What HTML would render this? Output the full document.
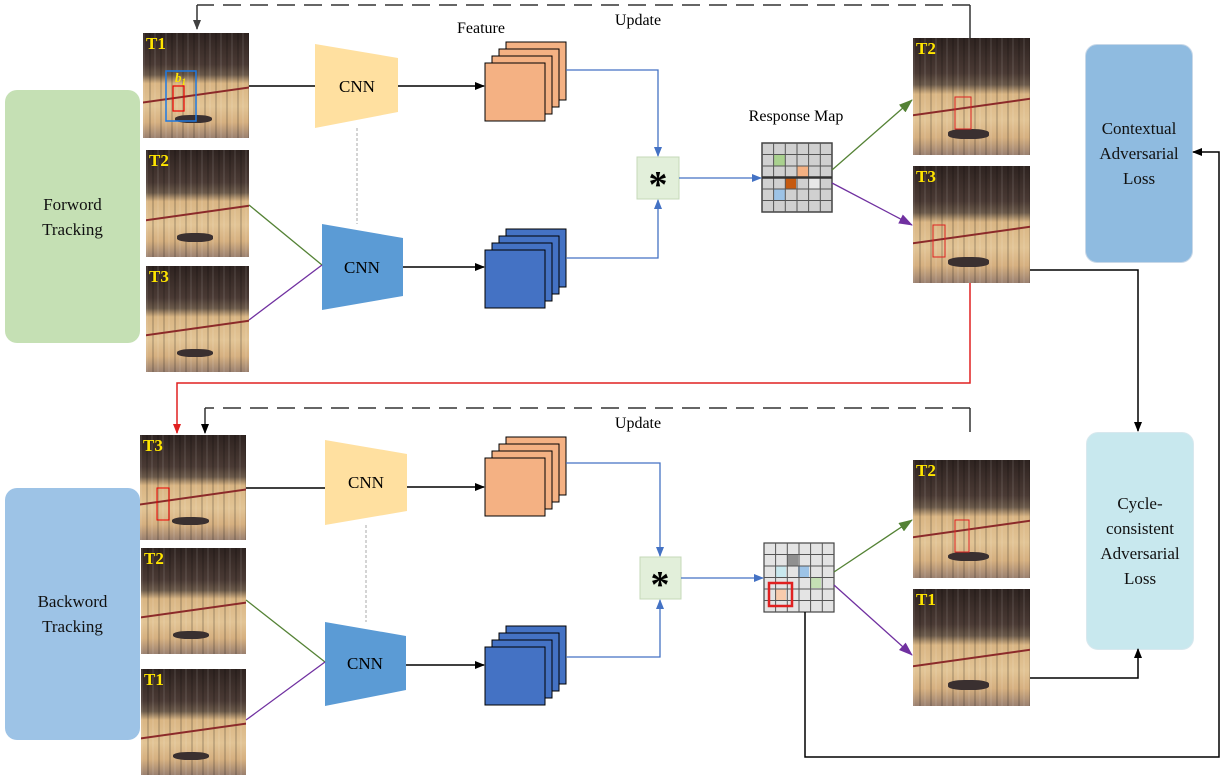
<!DOCTYPE html>
<html><head><meta charset="utf-8"><style>
body{margin:0;background:#fff;width:1225px;height:782px;overflow:hidden;font-family:"Liberation Serif",serif;}
.p{position:absolute;background:
repeating-linear-gradient(90deg,rgba(255,255,255,0.08) 0 2px,rgba(0,0,0,0) 2px 6px,rgba(0,0,0,0.15) 6px 8px,rgba(0,0,0,0) 8px 11px),
linear-gradient(#2e2320 0%,#4a3a34 30%,#6b5a4a 40%,#d9b583 48%,#e2c495 70%,#d6b080 85%,#9a8070 100%);overflow:hidden}
.p:before{content:"";position:absolute;left:0;right:0;top:58%;height:2px;background:#8b2a2a;transform:skewY(-8deg)}
.p:after{content:"";position:absolute;left:30%;width:35%;bottom:14%;height:8%;background:#3a3030;border-radius:40%}
.p b{position:absolute;left:3px;top:1px;color:#ffe600;font:bold 17px "Liberation Serif",serif;z-index:2}
.box{position:absolute;border-radius:12px;display:flex;align-items:center;justify-content:center;text-align:center;font-size:17px;line-height:25px;color:#111}
</style></head><body>
<div class="box" style="left:5px;top:90px;width:135px;height:253px;background:#c5e0b4">Forword<br>Tracking</div>
<div class="box" style="left:5px;top:488px;width:135px;height:252px;background:#9dc3e6">Backword<br>Tracking</div>
<div class="box" style="left:1085px;top:44px;width:106px;height:217px;background:#8fbbe0;border:1px solid #c8d8e8">Contextual<br>Adversarial<br>Loss</div>
<div class="box" style="left:1086px;top:432px;width:106px;height:216px;background:#c8e8ee;border:1px solid #d8e8ee">Cycle-<br>consistent<br>Adversarial<br>Loss</div>

<div class="p" style="left:143px;top:33px;width:106px;height:105px"><b>T1</b></div>
<div class="p" style="left:146px;top:150px;width:103px;height:107px"><b>T2</b></div>
<div class="p" style="left:146px;top:266px;width:103px;height:106px"><b>T3</b></div>
<div class="p" style="left:913px;top:38px;width:117px;height:117px"><b>T2</b></div>
<div class="p" style="left:913px;top:166px;width:117px;height:117px"><b>T3</b></div>
<div class="p" style="left:140px;top:435px;width:106px;height:105px"><b>T3</b></div>
<div class="p" style="left:141px;top:548px;width:105px;height:106px"><b>T2</b></div>
<div class="p" style="left:141px;top:669px;width:105px;height:106px"><b>T1</b></div>
<div class="p" style="left:913px;top:460px;width:117px;height:118px"><b>T2</b></div>
<div class="p" style="left:913px;top:589px;width:117px;height:117px"><b>T1</b></div>

<svg width="1225" height="782" style="position:absolute;left:0;top:0" font-family="Liberation Serif,serif">
<defs>
<marker id="ak" markerWidth="10" markerHeight="8" refX="9" refY="4" orient="auto" markerUnits="userSpaceOnUse"><path d="M0,0L10,4L0,8z" fill="#000"/></marker>
<marker id="ab" markerWidth="10" markerHeight="8" refX="9" refY="4" orient="auto" markerUnits="userSpaceOnUse"><path d="M0,0L10,4L0,8z" fill="#4472c4"/></marker>
<marker id="ag" markerWidth="14" markerHeight="10" refX="13" refY="5" orient="auto" markerUnits="userSpaceOnUse"><path d="M0,0L14,5L0,10z" fill="#548235"/></marker>
<marker id="ap" markerWidth="14" markerHeight="10" refX="13" refY="5" orient="auto" markerUnits="userSpaceOnUse"><path d="M0,0L14,5L0,10z" fill="#7030a0"/></marker>
<marker id="ar" markerWidth="10" markerHeight="8" refX="9" refY="4" orient="auto" markerUnits="userSpaceOnUse"><path d="M0,0L10,4L0,8z" fill="#e02020"/></marker>
<marker id="ad" markerWidth="10" markerHeight="8" refX="9" refY="4" orient="auto" markerUnits="userSpaceOnUse"><path d="M0,0L10,4L0,8z" fill="#404040"/></marker>
</defs>
<rect x="166" y="71" width="30" height="50" fill="none" stroke="#1e78e0" stroke-width="1.5"/>
<rect x="173" y="86" width="11" height="25" fill="none" stroke="#e00" stroke-width="1.2"/>
<text x="175" y="82" fill="#ffe600" font-size="13" font-style="italic" font-weight="bold">b<tspan font-size="9" dy="3">1</tspan></text>
<rect x="955" y="97" width="16" height="32" fill="none" stroke="#d22" stroke-width="1"/>
<rect x="933" y="225" width="12" height="32" fill="none" stroke="#d22" stroke-width="1"/>
<rect x="157" y="488" width="12" height="32" fill="none" stroke="#e00" stroke-width="1"/>
<rect x="955" y="520" width="14" height="32" fill="none" stroke="#d22" stroke-width="1"/>

<polygon points="315,44 398,58 398,112 315,128" fill="#ffe0a0"/>
<text x="357" y="92" font-size="17" text-anchor="middle">CNN</text>
<polygon points="322,224 403,238 403,296 322,310" fill="#5b9bd5"/>
<text x="362" y="273" font-size="17" text-anchor="middle">CNN</text>
<polygon points="325,440 407,454 407,511 325,525" fill="#ffe0a0"/>
<text x="366" y="488" font-size="17" text-anchor="middle">CNN</text>
<polygon points="325,622 406,636 406,690 325,706" fill="#5b9bd5"/>
<text x="365" y="669" font-size="17" text-anchor="middle">CNN</text>
<line x1="357" y1="128" x2="357" y2="224" stroke="#aaa" stroke-dasharray="3,2"/>
<line x1="366" y1="525" x2="366" y2="622" stroke="#aaa" stroke-dasharray="3,2"/>

<g stroke="#000" stroke-width="1">
<rect x="506" y="42" width="60" height="58" fill="#f4b183"/><rect x="499" y="49" width="60" height="58" fill="#f4b183"/><rect x="492" y="56" width="60" height="58" fill="#f4b183"/><rect x="485" y="63" width="60" height="58" fill="#f4b183"/>
<rect x="506" y="229" width="60" height="58" fill="#4472c4"/><rect x="499" y="236" width="60" height="58" fill="#4472c4"/><rect x="492" y="243" width="60" height="58" fill="#4472c4"/><rect x="485" y="250" width="60" height="58" fill="#4472c4"/>
<rect x="506" y="437" width="60" height="58" fill="#f4b183"/><rect x="499" y="444" width="60" height="58" fill="#f4b183"/><rect x="492" y="451" width="60" height="58" fill="#f4b183"/><rect x="485" y="458" width="60" height="58" fill="#f4b183"/>
<rect x="506" y="626" width="60" height="58" fill="#4472c4"/><rect x="499" y="633" width="60" height="58" fill="#4472c4"/><rect x="492" y="640" width="60" height="58" fill="#4472c4"/><rect x="485" y="647" width="60" height="58" fill="#4472c4"/>
</g>
<text x="481" y="33" font-size="16" text-anchor="middle">Feature</text>

<rect x="637" y="157" width="42" height="42" fill="#e2efda" stroke="#c5d9b8"/>
<text x="658" y="197" font-size="38" font-weight="bold" text-anchor="middle">*</text>
<rect x="640" y="557" width="41" height="42" fill="#e2efda" stroke="#c5d9b8"/>
<text x="660" y="597" font-size="38" font-weight="bold" text-anchor="middle">*</text>

<g>
<rect x="762" y="143" width="70" height="69" fill="#d0d0d0" stroke="#444" stroke-width="1.5"/>
<rect x="774" y="155" width="11" height="11" fill="#a9d18e"/>
<rect x="797" y="166" width="11" height="11" fill="#f4b183"/>
<rect x="785" y="178" width="11" height="11" fill="#c55a11"/>
<rect x="808" y="178" width="11" height="11" fill="#e7e7e7"/>
<rect x="774" y="189" width="11" height="11" fill="#9dc3e6"/>
<path d="M773.6,143V212M785.3,143V212M797,143V212M808.6,143V212M820.3,143V212M762,154.5H832M762,166H832M762,189H832M762,200.5H832" stroke="#555" stroke-width="1"/>
<line x1="762" y1="177.5" x2="832" y2="177.5" stroke="#333" stroke-width="2.5"/>
</g>
<text x="796" y="121" font-size="16" text-anchor="middle">Response Map</text>
<g>
<rect x="764" y="543" width="70" height="69" fill="#e4e4e4" stroke="#444" stroke-width="1.2"/>
<rect x="787" y="554" width="11" height="12" fill="#909090"/>
<rect x="775" y="566" width="11" height="11" fill="#c9e8ee"/>
<rect x="798" y="566" width="11" height="11" fill="#9dc3e6"/>
<rect x="810" y="577" width="11" height="11" fill="#c5e0b4"/>
<rect x="775" y="589" width="11" height="11" fill="#f8cbad"/>
<path d="M775.6,543V612M787.3,543V612M799,543V612M810.6,543V612M822.3,543V612M764,554.5H834M764,566H834M764,577.5H834M764,589H834M764,600.5H834" stroke="#555" stroke-width="1"/>
<rect x="769" y="583" width="23" height="23" fill="none" stroke="#e02020" stroke-width="2.5"/>
</g>

<g stroke="#000" stroke-width="1.5" fill="none">
<line x1="249" y1="86" x2="315" y2="86"/>
<line x1="398" y1="86" x2="484" y2="86" marker-end="url(#ak)"/>
<line x1="403" y1="267" x2="484" y2="267" marker-end="url(#ak)"/>
<line x1="246" y1="488" x2="325" y2="488"/>
<line x1="407" y1="487" x2="484" y2="487" marker-end="url(#ak)"/>
<line x1="406" y1="665" x2="484" y2="665" marker-end="url(#ak)"/>
<polyline points="1030,270 1138,270 1138,431" marker-end="url(#ak)"/>
<polyline points="1030,678 1138,678 1138,649" marker-end="url(#ak)"/>
<polyline points="805,612 805,757 1219,757 1219,152 1193,152" marker-end="url(#ak)"/>
</g>
<g stroke="#333" stroke-width="1.5" fill="none">
<line x1="970" y1="38" x2="970" y2="5"/>
<line x1="970" y1="5" x2="197" y2="5" stroke-dasharray="18,9"/>
<line x1="197" y1="5" x2="197" y2="29" marker-end="url(#ad)"/>
<line x1="970" y1="432" x2="970" y2="408"/>
<line x1="970" y1="408" x2="205" y2="408" stroke-dasharray="18,9"/>
<line x1="205" y1="408" x2="205" y2="433" marker-end="url(#ak)"/>
</g>
<text x="638" y="25" font-size="16" text-anchor="middle">Update</text>
<text x="638" y="428" font-size="16" text-anchor="middle">Update</text>
<polyline points="970,283 970,383 177,383 177,433" stroke="#e02020" stroke-width="1.5" fill="none" marker-end="url(#ar)"/>
<g stroke="#4472c4" stroke-width="1.3" fill="none">
<polyline points="566,70 658,70 658,156" marker-end="url(#ab)"/>
<polyline points="566,258 658,258 658,200" marker-end="url(#ab)"/>
<line x1="679" y1="178" x2="761" y2="178" marker-end="url(#ab)"/>
<polyline points="566,463 660,463 660,556" marker-end="url(#ab)"/>
<polyline points="566,657 660,657 660,600" marker-end="url(#ab)"/>
<line x1="681" y1="578" x2="763" y2="578" marker-end="url(#ab)"/>
</g>
<g stroke-width="1.3" fill="none">
<line x1="249" y1="205" x2="322" y2="265" stroke="#548235"/>
<line x1="249" y1="320" x2="322" y2="265" stroke="#7030a0"/>
<line x1="246" y1="600" x2="325" y2="662" stroke="#548235"/>
<line x1="246" y1="720" x2="325" y2="662" stroke="#7030a0"/>
<line x1="832" y1="170" x2="912" y2="100" stroke="#548235" marker-end="url(#ag)"/>
<line x1="832" y1="183" x2="912" y2="225" stroke="#7030a0" marker-end="url(#ap)"/>
<line x1="834" y1="572" x2="912" y2="520" stroke="#548235" marker-end="url(#ag)"/>
<line x1="834" y1="585" x2="912" y2="655" stroke="#7030a0" marker-end="url(#ap)"/>
</g>
</svg>
</body></html>
